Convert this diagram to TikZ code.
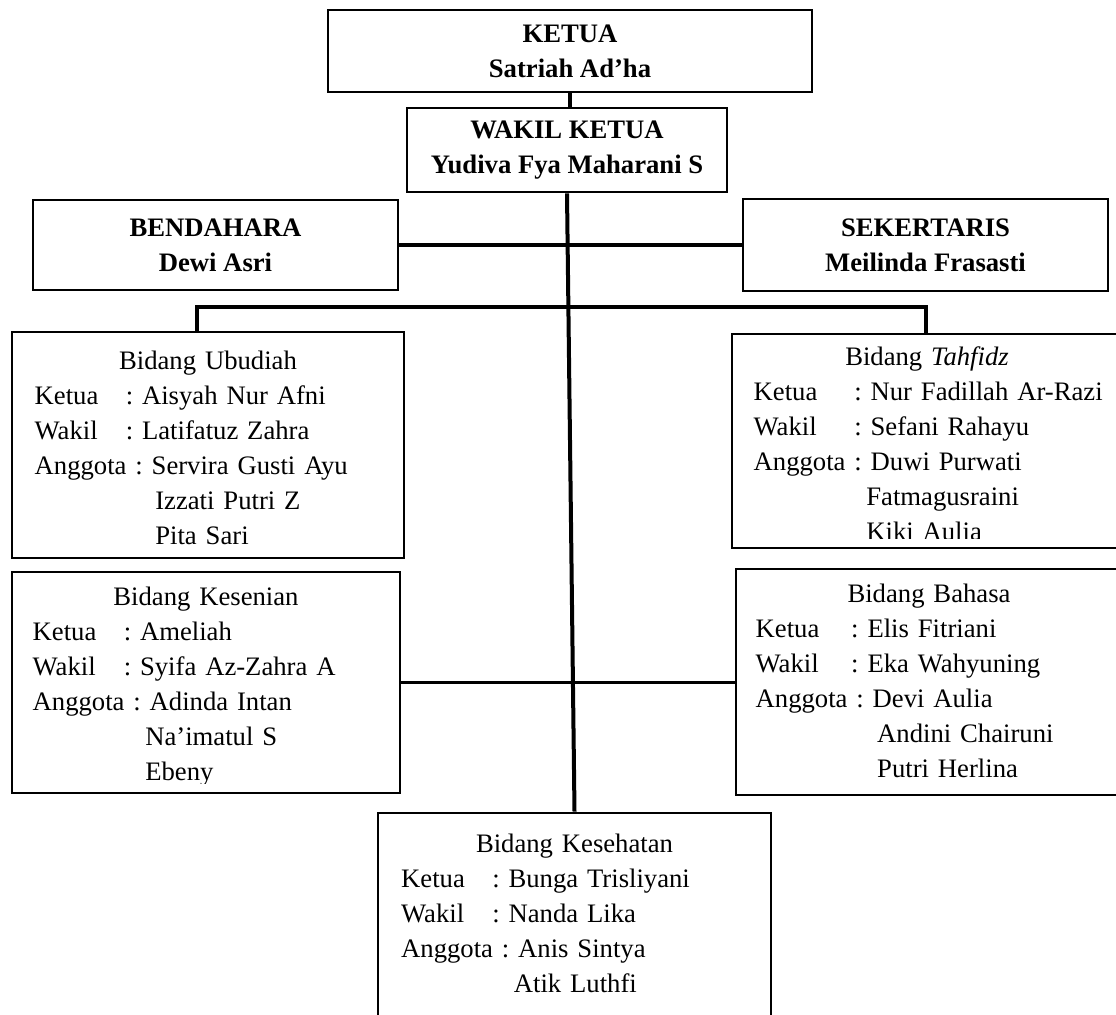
\documentclass[tikz,border=0pt]{standalone}
\usepackage{fontspec}
\setmainfont{Liberation Serif}
\frenchspacing
\newcommand{\jbt}[2][37pt]{\makebox[#1][l]{#2}}
\newcommand{\agt}[2][0pt]{\hspace*{\dimexpr 50.7pt+#1\relax}#2}
\tikzset{
  jabatan/.style={draw,line width=1.3pt,align=center,inner sep=0pt,font=\fontsize{12}{15.75}\selectfont\bfseries},
  bidang/.style={draw,line width=1.3pt,inner sep=0pt},
  isi/.style={anchor=north,inner sep=0pt,text width=156pt,align=left,font=\fontsize{12}{15.75}\selectfont},
  garis/.style={line width=1.5pt},
  garisUtama/.style={line width=1.8pt}
}
\begin{document}
\begin{tikzpicture}[x=0.45pt,y=-0.45pt]
  \useasboundingbox (0,0) rectangle (1116,1015);
  \clip (0,0) rectangle (1116,1015);
  \node[jabatan,minimum width=217.8pt,minimum height=36.9pt] (ketua) at (570,51) {KETUA\\Satriah Ad’ha};
  \node[jabatan,minimum width=144pt,minimum height=37.8pt] (wakil) at (567,150) {WAKIL KETUA\\Yudiva Fya Maharani S};
  \node[jabatan,minimum width=164.25pt,minimum height=40.5pt] (bendahara) at (215.5,245) {BENDAHARA\\Dewi Asri};
  \node[jabatan,minimum width=164.25pt,minimum height=41.4pt] (sekertaris) at (925.5,245) {SEKERTARIS\\Meilinda Frasasti};
  \node[bidang,minimum width=176.4pt,minimum height=101.7pt] (ubudiah) at (208,445) {};
  \node[bidang,minimum width=175.5pt,minimum height=96.3pt] (tahfidz) at (927,441) {};
  \node[bidang,minimum width=174.6pt,minimum height=99.45pt] (kesenian) at (206,682.5) {};
  \node[bidang,minimum width=173.7pt,minimum height=101.7pt] (bahasa) at (929,682) {};
  \node[bidang,minimum width=176.85pt,minimum height=104.4pt] (kesehatan) at (574.5,929) {};
  \node[isi] (ubudiahIsi) at (208,351) {\makebox[\linewidth]{Bidang Ubudiah}\\
    \jbt{Ketua} : Aisyah Nur Afni\\\jbt{Wakil} : Latifatuz Zahra\\Anggota : Servira Gusti Ayu\\
    \agt[3.6pt]{Izzati Putri Z}\\\agt[3.6pt]{Pita Sari}};
  \begin{scope}
    \clip (tahfidz.north west) rectangle ([yshift=5pt]tahfidz.south east);
    \node[isi] (tahfidzIsi) at (927,346) {\makebox[\linewidth]{Bidang \textit{Tahfidz}}\\
      \mbox{\jbt[41.3pt]{Ketua} : Nur Fadillah Ar-Razi}\\\jbt[41.3pt]{Wakil} : Sefani Rahayu\\Anggota : Duwi Purwati\\
      \agt{Fatmagusraini}\\\agt{Kiki Aulia}};
  \end{scope}
  \begin{scope}
    \clip (kesenian.north west) rectangle ([yshift=5pt]kesenian.south east);
    \node[isi] (kesenianIsi) at (206,587) {\makebox[\linewidth]{Bidang Kesenian}\\
      \jbt{Ketua} : Ameliah\\\jbt{Wakil} : Syifa Az-Zahra A\\Anggota : Adinda Intan\\
      \agt{Na’imatul S}\\\agt{Ebeny}};
  \end{scope}
  \node[isi] (bahasaIsi) at (929,584) {\makebox[\linewidth]{Bidang Bahasa}\\
    \jbt[39pt]{Ketua} : Elis Fitriani\\\jbt[39pt]{Wakil} : Eka Wahyuning\\Anggota : Devi Aulia\\
    \agt[4pt]{Andini Chairuni}\\\agt[4pt]{Putri Herlina}};
  \node[isi] (kesehatanIsi) at (574.5,834) {\makebox[\linewidth]{Bidang Kesehatan}\\
    \jbt{Ketua} : Bunga Trisliyani\\\jbt{Wakil} : Nanda Lika\\Anggota : Anis Sintya\\
    \agt{Atik Luthfi}};
  \coordinate (busKiri) at (197,307);
  \coordinate (busKanan) at (926,307);
  \draw[garis] (ketua.south) -- (ketua.south |- wakil.north);
  \draw[garisUtama] (wakil.south) -- (kesehatan.north);
  \draw[garis] (bendahara.east) -- (bendahara.east -| sekertaris.west);
  \draw[garis] (busKiri |- ubudiah.north) -- (busKiri) -- (busKanan) -- (busKanan |- tahfidz.north);
  \draw[garis] (kesenian.east) -- (kesenian.east -| bahasa.west);
\end{tikzpicture}
\end{document}
